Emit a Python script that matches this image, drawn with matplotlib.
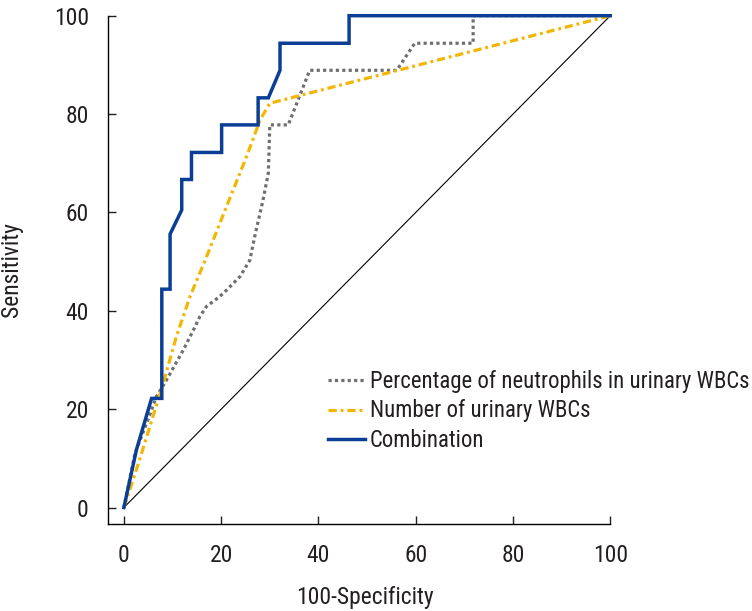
import matplotlib
matplotlib.use("Agg")
import os
import matplotlib.pyplot as plt
from matplotlib import font_manager as fm

# ---- pick a condensed sans font if one is installed ----
def find_condensed():
    files = [f for f in fm.fontManager.ttflist]
    prefs = ["liberationsansnarrow-regular", "robotocondensed-regular",
             "dejavusanscondensed.ttf", "opensans_condensed",
             "opensanscondensed-regular", "notosanscondensed-regular"]
    for p in prefs:
        for f in files:
            k = os.path.basename(f.fname).lower()
            if k.startswith(p):
                return f
    for f in files:
        k = os.path.basename(f.fname).lower()
        if ("narrow" in k or "condensed" in k) and "bold" not in k \
                and "italic" not in k and "oblique" not in k and "mono" not in k \
                and "serif" not in k and "semi" not in k and "light" not in k \
                and "extra" not in k:
            return f
    return None

cf = find_condensed()
if cf is not None:
    plt.rcParams['font.family'] = [cf.name, 'DejaVu Sans']
    plt.rcParams['font.stretch'] = cf.stretch
else:
    plt.rcParams['font.family'] = ['Liberation Sans', 'DejaVu Sans']

# ---- data ----
comb_x = [0, 2.6, 5.7, 7.8, 7.8, 9.5, 9.5, 11.9, 11.9, 13.9, 13.9, 20.1, 20.1,
          27.6, 27.6, 29.7, 32.1, 32.1, 46.3, 46.3, 100]
comb_y = [0, 11.8, 22.2, 22.2, 44.4, 44.4, 55.6, 60.5, 66.7, 66.7, 72.2, 72.2, 77.8,
          77.8, 83.3, 83.3, 88.9, 94.4, 94.4, 100, 100]

pct_x = [0, 2.3, 4.7, 6.7, 8.4, 10.1, 12.2, 14.3, 15.6, 17.0, 19.7, 21.1, 23.9,
         25.9, 26.9, 28.6, 29.7, 30.0, 33.8, 38.2, 56.1, 59.8, 71.8, 71.8, 100]
pct_y = [0, 11.1, 17.2, 22.6, 25.3, 28.3, 32.0, 36.1, 38.8, 40.9, 42.9, 44.2, 47.0,
         50.3, 55.1, 62.5, 68.0, 77.8, 77.8, 88.9, 88.9, 94.4, 94.4, 100, 100]

num_x = [0, 3.0, 6.0, 8.1, 10.8, 13.6, 17.0, 21.1, 25.2, 28.0, 30.0, 100]
num_y = [0, 9.0, 18.6, 25.3, 34.8, 42.9, 51.0, 61.2, 71.3, 78.8, 82.2, 100]

ref_x = [0, 100]
ref_y = [0, 100]

labels = ["Percentage of neutrophils in urinary WBCs",
          "Number of urinary WBCs",
          "Combination"]
ticks = [0, 20, 40, 60, 80, 100]

# ---- figure ----
W, H = 752, 611
fig = plt.figure(figsize=(W / 100, H / 100), dpi=100)
L, R, T, B = 108.3, 610.3, 15.7, 524.3
ax = fig.add_axes([L / W, 1 - B / H, (R - L) / W, (B - T) / H])

# size fonts so text widths match the reference
renderer = fig.canvas.get_renderer()
def width_at(s, size):
    t = fig.text(0, 0, s, fontsize=size)
    w = t.get_window_extent(renderer).width
    t.remove()
    return w
LFS = min(17.0, 17.0 * 377.0 / width_at(labels[0], 17.0))
FS = min(17.5, 17.0 * 35.0 / width_at("100", 17.0))
FS = max(FS, LFS)

gray = "#6e6f71"
yellow = "#f2b705"
blue = "#0b3f95"

ax.plot(ref_x, ref_y, color="black", lw=0.8, clip_on=False)
l1, = ax.plot(pct_x, pct_y, color=gray, lw=2.3, linestyle=(0, (1, 1)),
              dash_capstyle="butt", clip_on=False, label=labels[0])
l2, = ax.plot(num_x, num_y, color=yellow, lw=2.3, linestyle=(0, (2.6, 1.2, 0.9, 1.2)),
              dash_capstyle="butt", clip_on=False, label=labels[1])
l3, = ax.plot(comb_x, comb_y, color=blue, lw=2.5, clip_on=False,
              solid_joinstyle="miter", label=labels[2])

ax.set_xlim(-3.2, 100)
ax.set_ylim(-3.4, 100)
ax.set_xticks(ticks)
ax.set_yticks(ticks)
ax.spines["top"].set_visible(False)
ax.spines["right"].set_visible(False)
for s in ("left", "bottom"):
    ax.spines[s].set_linewidth(1.0)
ax.tick_params(direction="in", length=6, width=1.0, labelsize=FS, pad=14,
               colors="#231f20")

ax.set_xlabel("100-Specificity", fontsize=FS, color="#231f20")
ax.set_ylabel("Sensitivity", fontsize=FS, color="#231f20")
ax.xaxis.set_label_coords(0.511, -0.143)
ax.xaxis.label.set_verticalalignment("center")
ax.yaxis.set_label_coords(-0.192, 0.5)
ax.yaxis.label.set_verticalalignment("center")

hl = 37.0 / (LFS * 100 / 72)
leg = fig.legend(handles=[l1, l2, l3], labels=labels,
                 loc="center left",
                 bbox_to_anchor=(328 / W, 1 - 411 / H),
                 frameon=False, fontsize=LFS, handlelength=hl,
                 handletextpad=0.2, labelspacing=0.3, borderpad=0,
                 borderaxespad=0, labelcolor="#231f20")

fig.savefig("out.png", dpi=100)
